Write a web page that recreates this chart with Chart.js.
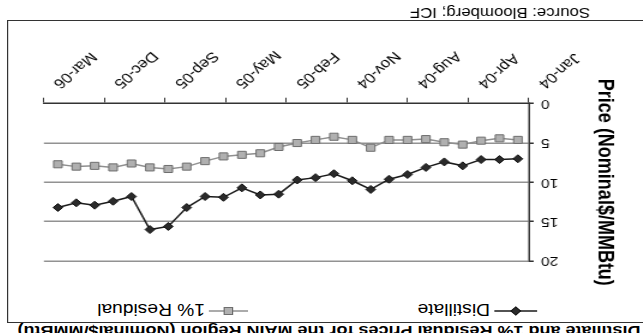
<!DOCTYPE html>
<html>
<head>
<meta charset="utf-8">
<title>Distillate and 1% Residual Prices for the MAIN Region</title>
<script src="https://cdn.jsdelivr.net/npm/chart.js@4.4.1/dist/chart.umd.min.js"></script>
<style>
  html, body { margin: 0; padding: 0; background: #fff; width: 643px; height: 333px; overflow: hidden; }
  #page {
    position: absolute; left: 0; top: 0; width: 536px; height: 333px;
    transform-origin: 0 0;
    transform: translate(643px, 333px) scale(-1.2, -1);
    font-family: "Liberation Sans", Arial, sans-serif; color: #000;
  }
  #page canvas { position: absolute; left: 0; top: 0; }
  .title { position: absolute; left: 2px; top: -5.7px; font: bold 15px/15px "Liberation Sans", Arial, sans-serif; white-space: nowrap; }
  .source { position: absolute; left: 44px; top: 313px; font: 14px/14px "Liberation Sans", Arial, sans-serif; white-space: nowrap; }
  .frame { position: absolute; left: -5px; top: 10px; width: 535px; height: 303px; box-sizing: border-box; border: 1.5px solid #333; pointer-events: none; }
  .lg-icon { position: absolute; top: 16px; }
  .lg-text { position: absolute; top: 16px; font: 16px/16px "Liberation Sans", Arial, sans-serif; white-space: nowrap; }
</style>
</head>
<body>
<div id="page">
  <div class="title">Distillate and 1% Residual Prices for the MAIN Region (Nominal$/MMBtu)</div>
  <div class="frame"></div>
  <svg class="lg-icon" style="left:88px" width="36" height="12" viewBox="0 0 36 12">
    <line x1="0" y1="6" x2="36" y2="6" stroke="#1a1a1a" stroke-width="1.5"/>
    <polygon points="14,6 18,2 22,6 18,10" fill="#2a2a2a" stroke="#111" stroke-width="1"/>
  </svg>
  <div class="lg-text" style="left:127.5px">Distillate</div>
  <svg class="lg-icon" style="left:329px" width="33" height="12" viewBox="0 0 33 12">
    <line x1="0" y1="6" x2="33" y2="6" stroke="#8f8f8f" stroke-width="1.5"/>
    <rect x="13" y="2.5" width="7" height="7" fill="#b0b0b0" stroke="#6e6e6e" stroke-width="1"/>
  </svg>
  <div class="lg-text" style="left:365px">1% Residual</div>
  <canvas id="chart" width="536" height="333"></canvas>
  <div class="source">Source: Bloomberg; ICF</div>
</div>
<script>
// Monthly prices, Jan-04 through Feb-06 (Nominal $/MMBtu)
const months = [
  'Jan-04','Feb-04','Mar-04','Apr-04','May-04','Jun-04','Jul-04','Aug-04','Sep-04','Oct-04','Nov-04','Dec-04',
  'Jan-05','Feb-05','Mar-05','Apr-05','May-05','Jun-05','Jul-05','Aug-05','Sep-05','Oct-05','Nov-05','Dec-05',
  'Jan-06','Feb-06'
];
const distillate = [
  7.0, 7.1, 7.1, 7.9, 7.4, 8.1, 9.0, 9.6, 10.9, 9.8, 8.9, 9.4,
  9.7, 11.5, 11.6, 10.7, 11.9, 11.8, 13.2, 15.6, 16.0, 11.8, 12.4, 12.9,
  12.6, 13.2
];
const residual = [
  4.6, 4.4, 4.7, 5.2, 4.9, 4.5, 4.6, 4.6, 5.6, 4.6, 4.2, 4.6,
  5.0, 5.5, 6.3, 6.5, 6.7, 7.3, 8.0, 8.3, 8.1, 7.6, 8.1, 7.9,
  8.0, 7.7
];
// Date-axis tick labels, evenly spaced along the axis
const tickLabels = ['Jan-04','Apr-04','Aug-04','Nov-04','Feb-05','May-05','Sep-05','Dec-05','Mar-06'];

const xMin = -0.6, xMax = 25.76;
const tickStep = (xMax - xMin) / (tickLabels.length - 1);
const tickPositions = tickLabels.map((_, i) => xMin + i * tickStep);

const toPoints = arr => arr.map((v, i) => ({ x: i, y: v }));

new Chart(document.getElementById('chart'), {
  type: 'line',
  data: {
    datasets: [
      {
        label: 'Distillate',
        data: toPoints(distillate),
        borderColor: '#1a1a1a',
        borderWidth: 1.5,
        pointStyle: 'rectRot',
        pointRadius: 4,
        pointBackgroundColor: '#2a2a2a',
        pointBorderColor: '#111',
        pointBorderWidth: 1,
        tension: 0
      },
      {
        label: '1% Residual',
        data: toPoints(residual),
        borderColor: '#8f8f8f',
        borderWidth: 1.5,
        pointStyle: 'rect',
        pointRadius: 5,
        pointBackgroundColor: '#b0b0b0',
        pointBorderColor: '#6e6e6e',
        pointBorderWidth: 1,
        tension: 0
      }
    ]
  },
  options: {
    responsive: false,
    animation: false,
    events: [],
    layout: { padding: { left: 20, top: 72, right: 36.8, bottom: 0 } },
    plugins: { legend: { display: false }, title: { display: false }, tooltip: { enabled: false } },
    scales: {
      x: {
        type: 'linear',
        min: xMin,
        max: xMax,
        afterBuildTicks: scale => { scale.ticks = tickPositions.map(v => ({ value: v })); },
        afterFit: scale => { scale.height = 103.7; },
        ticks: {
          autoSkip: false,
          minRotation: 45,
          maxRotation: 45,
          padding: 6,
          labelOffset: -10,
          color: '#000',
          font: { family: '"Liberation Sans", Arial, sans-serif', size: 14 },
          callback: (value, index) => tickLabels[index]
        },
        grid: { drawOnChartArea: false, drawTicks: true, tickLength: 6, tickColor: '#333' },
        border: { display: true, color: '#333', width: 1.5 }
      },
      y: {
        min: 0,
        max: 20,
        afterFit: scale => { scale.width = 75; },
        ticks: {
          stepSize: 5,
          padding: 6,
          color: '#000',
          font: { family: '"Liberation Sans", Arial, sans-serif', size: 13 }
        },
        grid: {
          color: ctx => (ctx.tick && ctx.tick.value === 0) ? 'rgba(0,0,0,0)' : '#929292',
          lineWidth: 1.5,
          drawTicks: true,
          tickLength: 4,
          tickColor: '#333'
        },
        border: { display: true, color: '#333', width: 1.5 },
        title: {
          display: true,
          text: 'Price (Nominal$/MMBtu)',
          color: '#000',
          padding: { top: 1, bottom: 0 },
          font: { family: '"Liberation Sans", Arial, sans-serif', size: 18, weight: 'bold' }
        }
      }
    }
  }
});
</script>
</body>
</html>
